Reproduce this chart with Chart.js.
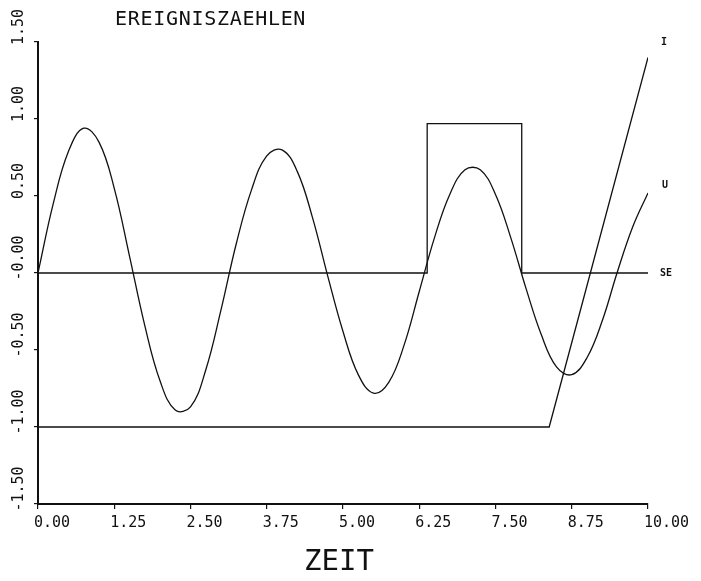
<!DOCTYPE html>
<html>
<head>
<meta charset="utf-8">
<script src="https://cdn.jsdelivr.net/npm/chart.js@4/dist/chart.umd.min.js"></script>
<style>
  html, body { margin: 0; padding: 0; background: #fff; }
  #plot { display: block; }
</style>
</head>
<body>
<canvas id="plot" width="701" height="581"></canvas>
<script>
// Zeitachse und Messwerte
const xTicks = [0, 1.25, 2.5, 3.75, 5, 6.25, 7.5, 8.75, 10];
const xTickLabels = ["0.00", "1.25", "2.50", "3.75", "5.00", "6.25", "7.50", "8.75", "10.00"];
const yTicks = [-1.5, -1, -0.5, 0, 0.5, 1, 1.5];
const yTickLabels = ["-1.50", "-1.00", "-0.50", "-0.00", "0.50", "1.00", "1.50"];

// U: Spannung
const uTime = [0, 0.25, 0.5, 0.75, 1, 1.25, 1.5, 1.75, 2, 2.25, 2.5, 2.75, 3, 3.25, 3.5, 3.75,
  4, 4.25, 4.5, 4.75, 5, 5.25, 5.5, 5.75, 6, 6.25, 6.5, 6.75, 7, 7.25, 7.5, 7.75,
  8, 8.25, 8.5, 8.75, 9, 9.25, 9.5, 9.75, 10];
const uValues = [0, 0.45, 0.79, 0.94, 0.85, 0.55, 0.11, -0.34, -0.70, -0.89, -0.87, -0.63, -0.24, 0.19, 0.54, 0.76,
  0.80, 0.66, 0.36, -0.02, -0.38, -0.66, -0.78, -0.71, -0.47, -0.12, 0.23, 0.51, 0.67, 0.67, 0.51, 0.23,
  -0.10, -0.40, -0.61, -0.66, -0.55, -0.31, 0.01, 0.30, 0.52];

// SE: Schaltereignis
const seTime = [0, 6.38, 6.38, 7.93, 7.93, 10];
const seValues = [0, 0, 0.97, 0.97, 0, 0];

// I: Strom
const iTime = [0, 8.38, 10];
const iValues = [-1, -1, 1.4];

const INK = '#111';
const MONO = '"DejaVu Sans Mono", "Liberation Mono", monospace';

function toPoints(xs, ys) {
  return xs.map((v, k) => ({ x: v, y: ys[k] }));
}

// Beschriftung im Plotterstil
const plotterText = {
  id: 'plotterText',
  afterDraw(chart) {
    const ctx = chart.ctx;
    const xs = chart.scales.x, ys = chart.scales.y;
    ctx.save();
    ctx.fillStyle = INK;
    ctx.textBaseline = 'middle';

    ctx.font = '15px ' + MONO;
    ctx.textAlign = 'left';
    xTicks.forEach((v, k) => {
      ctx.fillText(xTickLabels[k], xs.getPixelForValue(v) - 4, 523);
    });
    yTicks.forEach((v, k) => {
      ctx.save();
      ctx.translate(19, ys.getPixelForValue(v) - 15);
      ctx.rotate(-Math.PI / 2);
      ctx.textAlign = 'center';
      ctx.fillText(yTickLabels[k], 0, 0);
      ctx.restore();
    });

    ctx.textAlign = 'left';
    ctx.font = '20px ' + MONO;
    ctx.letterSpacing = '0.7px';
    ctx.fillText('EREIGNISZAEHLEN', 115, 20);
    ctx.letterSpacing = '0px';

    ctx.textAlign = 'center';
    ctx.font = '29px ' + MONO;
    ctx.fillText('ZEIT', 339, 562);

    // Kurvennamen am Ende jeder Linie
    ctx.font = 'bold 10px ' + MONO;
    ctx.textAlign = 'left';
    chart.data.datasets.forEach(ds => {
      const last = ds.data[ds.data.length - 1];
      const px = xs.getPixelForValue(last.x) + ds.tagOffset[0];
      const py = ys.getPixelForValue(last.y) + ds.tagOffset[1];
      ctx.fillText(ds.label, px, py);
    });
    ctx.restore();
  }
};

new Chart(document.getElementById('plot'), {
  type: 'line',
  data: {
    datasets: [
      { label: 'U', data: toPoints(uTime, uValues), tension: 0.4, tagOffset: [14, -8] },
      { label: 'SE', data: toPoints(seTime, seValues), tension: 0, tagOffset: [12, 0] },
      { label: 'I', data: toPoints(iTime, iValues), tension: 0, tagOffset: [13, -15] }
    ]
  },
  options: {
    responsive: false,
    animation: false,
    parsing: false,
    layout: { padding: { left: 38, right: 53, top: 42, bottom: 77 } },
    elements: {
      point: { radius: 0 },
      line: { borderColor: INK, borderWidth: 1.3, fill: false }
    },
    plugins: {
      legend: { display: false },
      tooltip: { enabled: false }
    },
    scales: {
      x: {
        type: 'linear', min: 0, max: 10,
        afterBuildTicks: s => { s.ticks = xTicks.map(v => ({ value: v })); },
        afterFit: s => { s.height = 0; },
        ticks: { display: false },
        grid: { drawOnChartArea: false, drawTicks: true, tickLength: 5, color: INK, lineWidth: 1.2 },
        border: { display: true, color: INK, width: 2 }
      },
      y: {
        type: 'linear', min: -1.5, max: 1.5,
        afterBuildTicks: s => { s.ticks = yTicks.map(v => ({ value: v })); },
        afterFit: s => { s.width = 0; },
        ticks: { display: false },
        grid: { drawOnChartArea: false, drawTicks: true, tickLength: 4, color: INK, lineWidth: 1.2 },
        border: { display: true, color: INK, width: 2 }
      }
    }
  },
  plugins: [plotterText]
});
</script>
</body>
</html>
